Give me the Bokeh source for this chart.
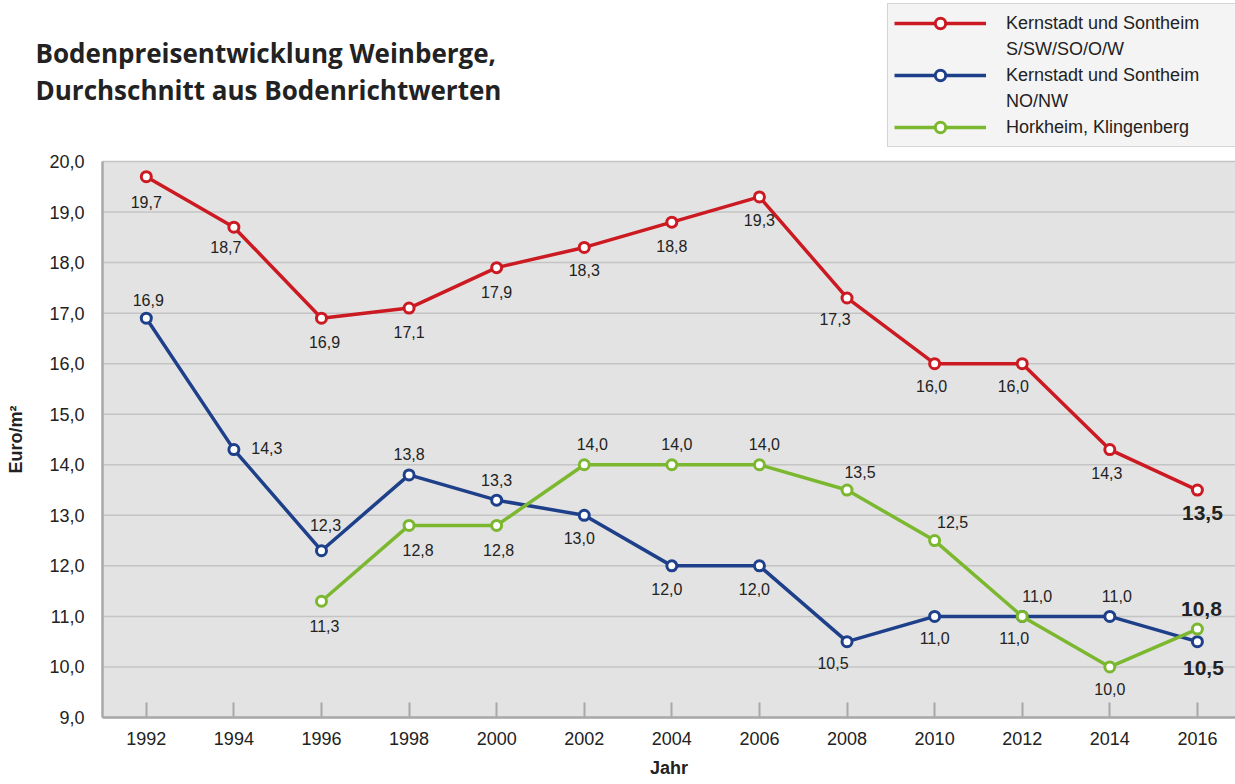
from bokeh.plotting import figure
from bokeh.models import (ColumnDataSource, FixedTicker, CustomJSTickFormatter, Range1d,
                          Legend, LegendItem, Label)
from bokeh.embed import file_html
from bokeh.resources import INLINE
from bokeh.core.properties import value

# ---------------- data ----------------
years = [1992, 1994, 1996, 1998, 2000, 2002, 2004, 2006, 2008, 2010, 2012, 2014, 2016]
red_vals = [19.7, 18.7, 16.9, 17.1, 17.9, 18.3, 18.8, 19.3, 17.3, 16.0, 16.0, 14.3, 13.5]
blue_vals = [16.9, 14.3, 12.3, 13.8, 13.3, 13.0, 12.0, 12.0, 10.5, 11.0, 11.0, 11.0, 10.5]
green_years = [1996, 1998, 2000, 2002, 2004, 2006, 2008, 2010, 2012, 2014, 2016]
green_vals = [11.3, 12.8, 12.8, 14.0, 14.0, 14.0, 13.5, 12.5, 11.0, 10.0, 10.75]
y_ticks = [9, 10, 11, 12, 13, 14, 15, 16, 17, 18, 19, 20]

# legend text: first line of each entry carries the glyph, second line continues it
series_names = [["Kernstadt und Sontheim", "S/SW/SO/O/W"],
                ["Kernstadt und Sontheim", "NO/NW"],
                ["Horkheim, Klingenberg"]]
title_lines = ["Bodenpreisentwicklung Weinberge,", "Durchschnitt aus Bodenrichtwerten"]

# label placement offsets (screen px) for value labels
red_dx = [0, -8, 3, 0, 0, 0, 0, 0, -12, -3, -9, -3, 5]
red_dy = [25, 20, 24, 24, 24, 23, 24, 23, 21, 22, 22, 23, 23]
blue_dx = [2, 33, 4, 0, 0, -5, -5, -5, -14, 0, -8, 7, 6]
blue_dy = [-18, -2, -26, -21, -20, 23, 23, 23, 21, 22, 22, -20, 26]
green_dx = [3, 9, 2, 8, 5, 5, 13, 18, 15, 0, 4]
green_dy = [25, 25, 25, -21, -21, -21, -18, -19, -20, 22, -20]

RED = "#cc1a22"
BLUE = "#1e3f8a"
GREEN = "#7cb82f"
TXT = "#222222"
FONT = "Liberation Sans"
AXIS_C = "#a8a8a8"

# geometry (pixels): the frame covers the whole canvas, axes are pinned to the grey area
W, H = 1235, 784
AREA_L, AREA_T, AREA_B = 102, 161, 717        # grey plotting area
X0, X1 = 1991.0, 2016.87                       # data x at grey area left / canvas right
Y0, Y1 = 9, 20
PX_X = (W - AREA_L) / (X1 - X0)
PX_Y = (AREA_B - AREA_T) / (Y1 - Y0)
XS = X0 - AREA_L / PX_X                        # data x at canvas left
YE = Y1 + AREA_T / PX_Y                        # data y at canvas top
YB = Y0 - (H - AREA_B) / PX_Y                  # data y at canvas bottom


def fmt(v):
    return f"{v:.1f}".replace(".", ",")


def px_to_x(px):
    return XS + px / PX_X


def px_to_y(py):
    return YE - py / PX_Y


p = figure(width=W, height=H, output_backend="svg", toolbar_location=None,
           x_range=Range1d(XS, X1), y_range=Range1d(YB, YE),
           min_border=0,
           background_fill_color="white", border_fill_color="white",
           outline_line_color=None)

# grey plotting area and horizontal grid lines
p.quad(left=[X0], right=[X1 + 1], bottom=[Y0], top=[Y1], fill_color="#e3e3e3",
       line_color=None, level="underlay")
p.segment(x0=[X0] * len(y_ticks), x1=[X1 + 1] * len(y_ticks), y0=y_ticks, y1=y_ticks,
          line_color="#c4c4c4", line_width=1.5, level="underlay")
p.xgrid.visible = False
p.ygrid.visible = False

# x axis, pinned to the grey area's bottom edge
p.xaxis.fixed_location = Y0
p.xaxis.bounds = (X0, X1)
p.xaxis.ticker = FixedTicker(ticks=years)
p.xaxis.major_tick_in = 15
p.xaxis.major_tick_out = 0
p.xaxis.major_tick_line_color = AXIS_C
p.xaxis.major_tick_line_width = 2
p.xaxis.minor_tick_line_color = None
p.xaxis.axis_line_color = AXIS_C
p.xaxis.axis_line_width = 2.5
p.xaxis.major_label_text_font = FONT
p.xaxis.major_label_text_font_size = "18px"
p.xaxis.major_label_text_color = TXT
p.xaxis.major_label_standoff = 14
p.xaxis.axis_label = "Jahr"
p.xaxis.axis_label_text_font = FONT
p.xaxis.axis_label_text_font_style = "bold"
p.xaxis.axis_label_text_font_size = "18px"
p.xaxis.axis_label_text_color = TXT
p.xaxis.axis_label_standoff = 10

# y axis, pinned to the grey area's left edge
p.yaxis.fixed_location = X0
p.yaxis.bounds = (Y0, Y1)
p.yaxis.ticker = FixedTicker(ticks=y_ticks)
p.yaxis.formatter = CustomJSTickFormatter(code="return tick.toFixed(1).replace('.', ',');")
p.yaxis.major_tick_in = 0
p.yaxis.major_tick_out = 0
p.yaxis.minor_tick_line_color = None
p.yaxis.axis_line_color = AXIS_C
p.yaxis.axis_line_width = 2.5
p.yaxis.major_label_text_font = FONT
p.yaxis.major_label_text_font_size = "18px"
p.yaxis.major_label_text_color = TXT
p.yaxis.major_label_standoff = 18
p.yaxis.axis_label = "Euro/m²"
p.yaxis.axis_label_text_font = FONT
p.yaxis.axis_label_text_font_style = "bold"
p.yaxis.axis_label_text_font_size = "18px"
p.yaxis.axis_label_text_color = TXT
p.yaxis.axis_label_standoff = 20

legend_items = []
for names, xs, ys, col, dx, dy in [(series_names[0], years, red_vals, RED, red_dx, red_dy),
                                   (series_names[1], years, blue_vals, BLUE, blue_dx, blue_dy),
                                   (series_names[2], green_years, green_vals, GREEN, green_dx, green_dy)]:
    src = ColumnDataSource(dict(x=xs, y=ys))
    rl = p.line("x", "y", source=src, line_color=col, line_width=3.5)
    rs = p.scatter("x", "y", source=src, size=10, fill_color="white", line_color=col, line_width=3)
    legend_items.append(LegendItem(label=names[0], renderers=[rl, rs]))
    for extra in names[1:]:
        legend_items.append(LegendItem(label=extra, renderers=[]))

    n = len(xs)
    normal = ColumnDataSource(dict(x=xs[:n - 1], y=ys[:n - 1], lbl=[fmt(v) for v in ys[:n - 1]],
                                   dx=dx[:n - 1], dy=dy[:n - 1]))
    last = ColumnDataSource(dict(x=xs[n - 1:], y=ys[n - 1:], lbl=[fmt(v) for v in ys[n - 1:]],
                                 dx=dx[n - 1:], dy=dy[n - 1:]))
    p.text("x", "y", text="lbl", x_offset="dx", y_offset="dy", source=normal,
           text_font=value(FONT), text_font_size="16px", text_color=TXT,
           text_align="center", text_baseline="middle")
    p.text("x", "y", text="lbl", x_offset="dx", y_offset="dy", source=last,
           text_font=value(FONT), text_font_size="21px", text_font_style="bold", text_color=TXT,
           text_align="center", text_baseline="middle")

# title
for line, cy in zip(title_lines, [52, 89]):
    p.add_layout(Label(x=px_to_x(35), y=px_to_y(cy), text=line,
                       text_font="Open Sans", text_font_style="bold", text_font_size="26px",
                       text_color=TXT, text_baseline="middle", text_align="left"))

# legend (frame-relative screen position: x from left, y = bottom edge from frame bottom)
legend = Legend(items=legend_items, location=(887, H - 147), orientation="vertical",
                glyph_width=92, glyph_height=26, label_standoff=20, label_width=260,
                label_text_font=FONT, label_text_font_size="18px", label_text_color=TXT,
                label_text_line_height=1.2,
                padding=6, spacing=0, margin=0,
                background_fill_color="#f4f4f4", background_fill_alpha=1,
                border_line_color="#b4b4b4", border_line_width=1.5)
p.add_layout(legend)

open("out.html", "w").write(file_html(p, INLINE))
